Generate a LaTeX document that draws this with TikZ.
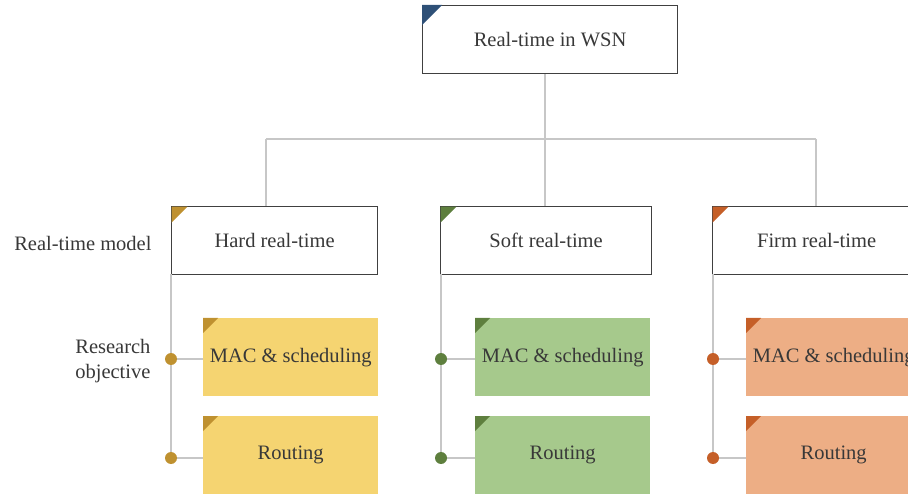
\documentclass[tikz,border=0pt]{standalone}
\usepackage{fontspec}
\setmainfont{Liberation Serif}
\begin{document}
\begin{tikzpicture}[x=1pt,y=-1pt,
  txt/.style={text=black!78, font=\rmfamily\fontsize{20.5}{22}\selectfont},
  wbox/.style={draw=black!75, line width=1.2pt, fill=white, minimum width=#1, minimum height=68pt, inner sep=0pt, anchor=north west, txt},
  cbox/.style={fill=#1, minimum width=175pt, minimum height=78pt, inner sep=0pt, anchor=north west, txt},
  conn/.style={draw=black!22, line width=1.3pt},
]
\definecolor{navy}{HTML}{2E5077}
\definecolor{goldD}{HTML}{BF9130}
\definecolor{goldL}{HTML}{F5D471}
\definecolor{greenD}{HTML}{5E7F3E}
\definecolor{greenL}{HTML}{A6C98C}
\definecolor{orangeD}{HTML}{C55F28}
\definecolor{orangeL}{HTML}{EDAE85}
\useasboundingbox (0,0) rectangle (908,494);
\clip (0,0) rectangle (908,494);

% top box
\node[wbox=255pt] (top) at (422,5) {Real-time in WSN};
\fill[navy] (top.north west) -- ++(20,0) -- ++(-20,20) -- cycle;

% level 2
\node[wbox=206pt] (hard) at (171,206) {Hard real-time};
\node[wbox=211pt] (soft) at (440,206) {Soft real-time};
\node[wbox=208pt] (firm) at (712,206) {Firm real-time};

\coordinate (hL) at (266,139);
\coordinate (hR) at (816,139);
\coordinate (hM) at (545,139);

\draw[conn] (hM |- top.south) -- (hM);
\draw[conn] (hL) -- (hR);
\draw[conn] (hL) -- (hL |- hard.north);
\draw[conn] (hM) -- (hM |- soft.north);
\draw[conn] (hR) -- (hR |- firm.north);

\fill[goldD] (hard.north west) ++(0.6,0.6) -- ++(16,0) -- ++(-16,16) -- cycle;
\fill[greenD] (soft.north west) ++(0.6,0.6) -- ++(16,0) -- ++(-16,16) -- cycle;
\fill[orangeD] (firm.north west) ++(0.6,0.6) -- ++(16,0) -- ++(-16,16) -- cycle;

% level 3 boxes
\node[cbox=goldL] (hmac) at (203,318) {MAC \& scheduling};
\node[cbox=goldL] (hrt) at (203,416) {Routing};
\node[cbox=greenL] (smac) at (475,318) {MAC \& scheduling};
\node[cbox=greenL] (srt) at (475,416) {Routing};
\node[cbox=orangeL] (fmac) at (746,318) {MAC \& scheduling};
\node[cbox=orangeL] (frt) at (746,416) {Routing};

\foreach \b/\c in {hmac/goldD,hrt/goldD,smac/greenD,srt/greenD,fmac/orangeD,frt/orangeD}{
  \fill[\c] (\b.north west) -- ++(15,0) -- ++(-15,15) -- cycle;
}

% dots and side lines
\foreach \m/\r/\x/\c in {hmac/hrt/171/goldD, smac/srt/441/greenD, fmac/frt/713/orangeD}{
  \coordinate (d1) at (\x,359);
  \coordinate (d2) at (\x,458);
  \draw[conn] (\x,274) -- (d2);
  \draw[conn] (d1) -- (d1 -| \m.west);
  \draw[conn] (d2) -- (d2 -| \r.west);
  \fill[\c] (d1) circle (6pt);
  \fill[\c] (d2) circle (6pt);
}

% side labels
\node[txt, anchor=east] (lm) at (155,243) {Real-time model};
\node[txt, anchor=east, align=right, font=\rmfamily\fontsize{20.5}{25}\selectfont] (lr) at (154,361) {Research\\objective};
\end{tikzpicture}
\end{document}
